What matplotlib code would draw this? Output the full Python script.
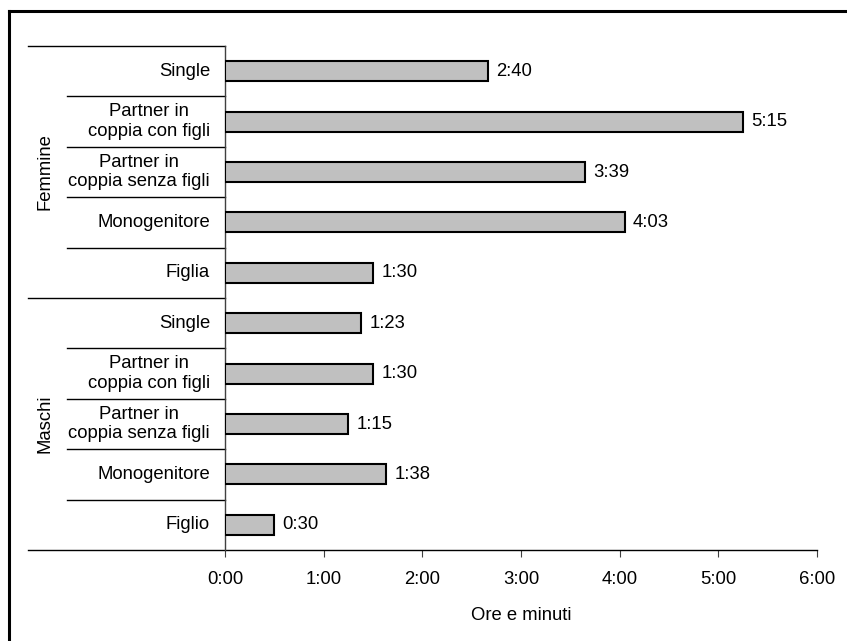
import numpy as np
import matplotlib.pyplot as plt
from matplotlib.lines import Line2D

plt.rcParams['font.family'] = ['Liberation Sans', 'DejaVu Sans']

categorie = ['Single', 'Partner in\ncoppia con figli', 'Partner in\ncoppia senza figli',
             'Monogenitore', 'Figlia',
             'Single', 'Partner in\ncoppia con figli', 'Partner in\ncoppia senza figli',
             'Monogenitore', 'Figlio']
minuti = [160, 315, 219, 243, 90, 83, 90, 75, 98, 30]
gruppi = ['Femmine', 'Maschi']
tick_ore = [0, 1, 2, 3, 4, 5, 6]


def hm(m):
    return '%d:%02d' % (m // 60, m % 60)


fs = 13.3
fig = plt.figure(figsize=(8.47, 6.41), dpi=100)
ax = fig.add_axes([225 / 847, 1 - 550 / 641, 592 / 847, 504 / 641])

y = np.arange(len(categorie))
ax.barh(y, minuti, height=0.4, color='#c0c0c0', edgecolor='black', linewidth=1.5, zorder=3)
for yi, m in zip(y, minuti):
    ax.text(m + 5, yi, hm(m), va='center', ha='left', fontsize=fs)

ax.set_ylim(len(categorie) - 0.5, -0.5)
ax.set_xlim(0, 360)
ax.set_xticks([h * 60 for h in tick_ore])
ax.set_xticklabels(['%d:00' % h for h in tick_ore], fontsize=fs)
ax.tick_params(axis='x', direction='out', length=5, pad=10, color='#404040')
ax.set_yticks([])
ax.set_xlabel('Ore e minuti', fontsize=fs, labelpad=14)

for s in ['top', 'right', 'bottom']:
    ax.spines[s].set_visible(False)
ax.spines['left'].set_color('#404040')
ax.spines['left'].set_linewidth(1)

trans = ax.get_yaxis_transform()

# etichette categorie
for yi, c in zip(y, categorie):
    ax.text(-15 / 592, yi, c, transform=trans, ha='right', va='center',
            multialignment='center', fontsize=fs, linespacing=1.2)

# separatori
xg = (28 - 225) / 592
xc = (67 - 225) / 592
for b in np.arange(0.5, len(categorie) - 0.5):
    x0 = xg if b == 4.5 else xc
    ax.add_line(Line2D([x0, 0], [b, b], transform=trans, color='black', lw=1, clip_on=False))
ax.add_line(Line2D([xg, 0], [-0.5, -0.5], transform=trans, color='black', lw=1, clip_on=False))
ax.add_line(Line2D([xg, 1], [9.5, 9.5], transform=trans, color='black', lw=1, clip_on=False))

# gruppi
for i, g in enumerate(gruppi):
    ax.text((45 - 225) / 592, 2 + 5 * i, g, transform=trans, rotation=90,
            ha='center', va='center', fontsize=fs)

# cornice
fig.add_artist(Line2D([8.5 / 847, 8.5 / 847], [0, 1 - 11 / 641], color='black', lw=2.2))
fig.add_artist(Line2D([8.5 / 847, 1], [1 - 11 / 641, 1 - 11 / 641], color='black', lw=2.2))

fig.savefig('out.png', dpi=100)
